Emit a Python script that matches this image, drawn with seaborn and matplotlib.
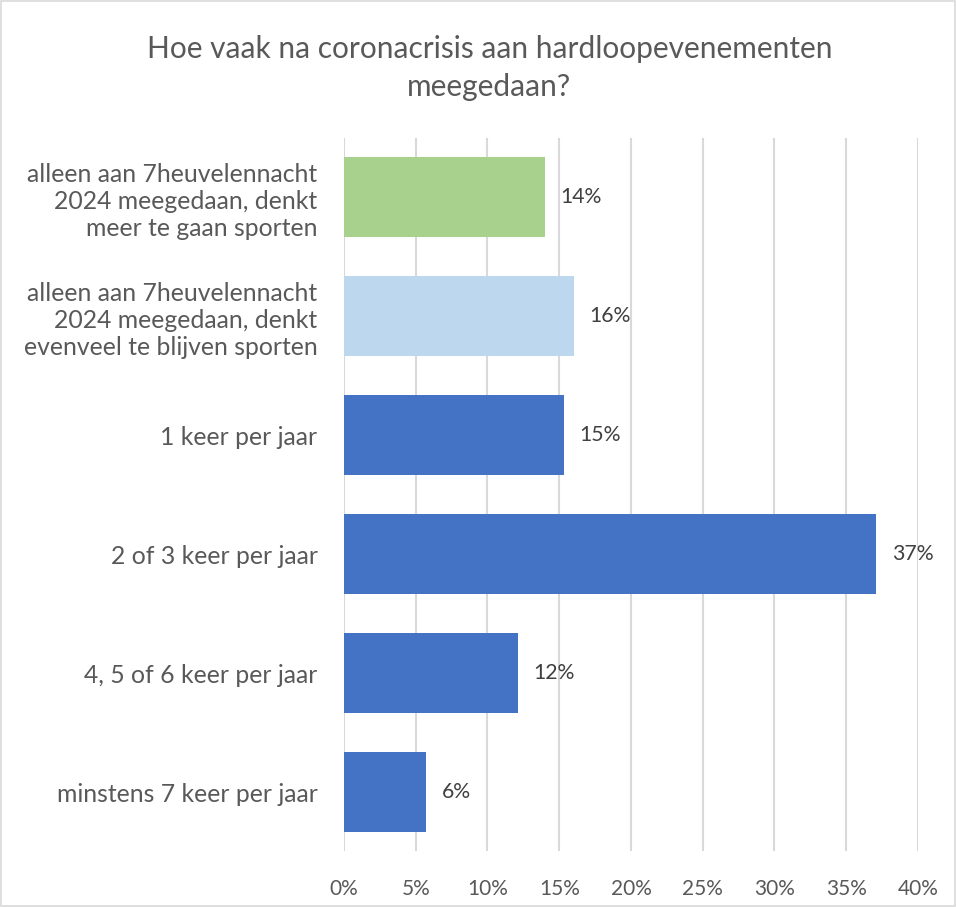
import matplotlib
matplotlib.use("Agg")
import matplotlib.pyplot as plt
import matplotlib.ticker as mticker
import seaborn as sns
import pandas as pd

# data
categories = [
    "alleen aan 7heuvelennacht\n2024 meegedaan, denkt\nmeer te gaan sporten",
    "alleen aan 7heuvelennacht\n2024 meegedaan, denkt\nevenveel te blijven sporten",
    "1 keer per jaar",
    "2 of 3 keer per jaar",
    "4, 5 of 6 keer per jaar",
    "minstens 7 keer per jaar",
]
shares = [0.14, 0.16, 0.153, 0.371, 0.121, 0.057]
labels = ["14%", "16%", "15%", "37%", "12%", "6%"]
colors = ["#a9d18e", "#bdd7ee", "#4472c4", "#4472c4", "#4472c4", "#4472c4"]

df = pd.DataFrame({"cat": categories, "share": shares})

sns.set_style("white")
plt.rcParams["font.family"] = ["Lato", "DejaVu Sans"]

fig = plt.figure(figsize=(9.56, 9.07), dpi=100)
ax = fig.add_axes([0.3598, 0.0612, 0.6004, 0.7868])

sns.barplot(data=df, x="share", y="cat", hue="cat", palette=colors,
            legend=False, width=0.67, saturation=1, linewidth=0,
            ax=ax, zorder=3)

ax.set_xlim(0, 0.40)
ax.xaxis.set_major_locator(mticker.MultipleLocator(0.05))
ax.xaxis.set_major_formatter(mticker.PercentFormatter(1.0, decimals=0))
ax.grid(axis="x", color="#d9d9d9", linewidth=1.5, zorder=0)
ax.grid(axis="y", visible=False)
for s in ax.spines.values():
    s.set_visible(False)
ax.set_xlabel("")
ax.set_ylabel("")
ax.tick_params(axis="x", length=0, pad=20, labelsize=15, labelcolor="#595959")
ax.tick_params(axis="y", length=0, pad=19, labelsize=17.8, labelcolor="#595959")
for t in ax.get_yticklabels():
    t.set_horizontalalignment("right")
    t.set_linespacing(1.22)

for i, (v, lab) in enumerate(zip(shares, labels)):
    ax.text(v + 0.011, i, lab, va="center", ha="left", fontsize=15.3,
            color="#404040")

fig.text(0.512, 0.925, "Hoe vaak na coronacrisis aan hardloopevenementen\nmeegedaan?",
         ha="center", va="center", fontsize=21.5, color="#595959",
         linespacing=1.4)

fig.patches.append(plt.Rectangle((0.001, 0.001), 0.998, 0.998, transform=fig.transFigure,
                                 fill=False, edgecolor="#d9d9d9", linewidth=1.2))

fig.savefig("out.png", dpi=100)
